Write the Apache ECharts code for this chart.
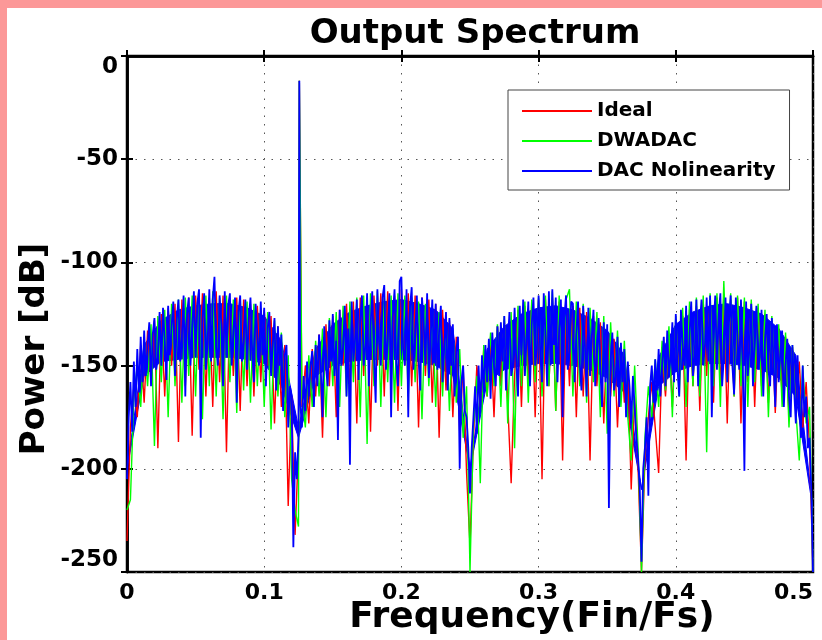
<!DOCTYPE html>
<html>
<head>
<meta charset="utf-8">
<script src="https://cdn.jsdelivr.net/npm/echarts@6/dist/echarts.min.js"></script>
<style>
	html, body { margin: 0; padding: 0; background: #fff; }
	#chart { width: 822px; height: 640px; }
</style>
</head>
<body>
<div id="chart"></div>
<script type="text/javascript">
// power per FFT bin [dB], bins evenly spaced from 0 to 0.5 (Fin/Fs)
var idealPower = [
	-235,-180,-160,-175,-140,-168,-133,-158,-128,-190,
	-125,-165,-122,-150,-120,-187,-118,-160,-117,-184,
	-116,-152,-115,-165,-117,-170,-114,-158,-116,-192,
	-118,-155,-117,-172,-118,-160,-120,-165,-121,-158,
	-123,-150,-126,-178,-131,-170,-140,-218,-165,-232,
	-190,-170,-150,-178,-142,-165,-135,-185,-130,-160,
	-126,-175,-123,-150,-120,-160,-119,-178,-117,-155,
	-117,-182,-116,-150,-115,-165,-114,-158,-116,-172,
	-113,-150,-115,-160,-116,-180,-117,-155,-118,-168,
	-120,-185,-123,-162,-128,-175,-136,-182,-150,-202,
	-237,-185,-150,-170,-142,-165,-136,-175,-131,-160,
	-128,-168,-207,-155,-123,-170,-121,-158,-120,-175,
	-118,-205,-118,-160,-117,-172,-119,-196,-120,-160,
	-121,-175,-122,-165,-124,-196,-126,-160,-129,-178,
	-133,-165,-137,-180,-142,-168,-150,-210,-165,-200,
	-250,-195,-175,-158,-180,-202,-145,-165,-136,-170,
	-130,-158,-126,-196,-123,-160,-121,-172,-119,-155,
	-118,-168,-117,-160,-116,-178,-118,-165,-117,-178,
	-119,-158,-120,-170,-122,-160,-125,-168,-128,-173,
	-132,-165,-136,-175,-141,-170,-148,-180,-158,-190,
	-250
];
var dwadacPower = [
	-220,-215,-165,-150,-170,-137,-160,-130,-189,-126,
	-158,-123,-175,-120,-160,-118,-168,-117,-155,-116,
	-165,-115,-176,-116,-160,-114,-165,-117,-176,-116,
	-158,-118,-173,-117,-162,-119,-168,-120,-160,-122,
	-170,-124,-181,-128,-165,-134,-175,-145,-205,-220,
	-228,-165,-180,-145,-170,-138,-165,-132,-175,-127,
	-160,-124,-170,-121,-165,-119,-158,-117,-175,-116,
	-188,-115,-160,-114,-170,-115,-158,-116,-168,-115,
	-160,-116,-165,-117,-158,-119,-176,-120,-160,-122,
	-170,-124,-165,-128,-172,-133,-168,-142,-185,-160,
	-250,-180,-155,-207,-140,-165,-134,-160,-130,-170,
	-126,-178,-124,-190,-121,-160,-119,-168,-118,-158,
	-117,-165,-116,-160,-114,-172,-116,-158,-118,-113,
	-165,-119,-160,-120,-168,-122,-158,-124,-175,-126,
	-183,-129,-165,-133,-170,-138,-175,-196,-150,-190,
	-250,-185,-160,-175,-147,-170,-138,-162,-131,-175,
	-126,-165,-122,-170,-119,-160,-117,-165,-116,-192,
	-115,-160,-115,-170,-109,-158,-115,-165,-116,-160,
	-117,-170,-118,-158,-120,-165,-123,-175,-126,-162,
	-130,-170,-134,-180,-140,-172,-196,-150,-178,-170,
	-250
];
// DAC nonlinearity, read at twice the bin density
var nonlinPower = [
	-205,-175,-158,-182,-148,-170,-142,-163,-136,-158,
	-133,-155,-140,-129,-160,-135,-127,-152,-146,-124,
	-150,-122,-138,-157,-121,-145,-131,-119,-155,-128,
	-118,-148,-136,-116,-165,-125,-117,-150,-133,-114,
	-146,-120,-113,-185,-127,-115,-152,-139,-113,-148,
	-118,-107,-141,-150,-116,-130,-160,-114,-145,-121,
	-115,-150,-135,-117,-168,-124,-116,-148,-138,-118,
	-152,-127,-117,-143,-158,-120,-135,-150,-119,-145,
	-122,-160,-132,-124,-155,-140,-127,-162,-131,-150,
	-135,-172,-145,-140,-180,-160,-165,-238,-192,-205,
	-185,-168,-180,-155,-172,-148,-165,-150,-143,-170,
	-140,-160,-135,-152,-175,-131,-150,-160,-128,-148,
	-125,-155,-138,-186,-123,-150,-141,-121,-165,-132,
	-198,-119,-148,-137,-118,-157,-128,-116,-150,-140,
	-115,-160,-131,-114,-146,-168,-113,-139,-150,-117,
	-111,-152,-136,-115,-175,-126,-113,-149,-160,-109,
	-107,-142,-150,-113,-175,-122,-112,-152,-137,-116,
	-147,-162,-117,-129,-150,-115,-156,-138,-118,-149,
	-120,-152,-133,-121,-158,-141,-124,-162,-127,-150,
	-130,-165,-143,-136,-200,-158,-150,-172,-175,-190,
	-212,-190,-175,-160,-183,-150,-170,-145,-163,-140,
	-158,-137,-166,-134,-150,-160,-131,-155,-129,-148,
	-126,-162,-140,-124,-155,-150,-122,-148,-165,-121,
	-145,-118,-155,-136,-119,-160,-130,-117,-150,-142,
	-116,-145,-158,-115,-135,-160,-114,-150,-113,-140,
	-117,-158,-132,-118,-175,-127,-116,-152,-143,-119,
	-120,-158,-135,-119,-149,-162,-121,-140,-165,-122,
	-155,-136,-123,-160,-145,-127,-152,-170,-129,-158,
	-130,-219,-148,-134,-162,-155,-136,-170,-139,-158,
	-142,-175,-148,-160,-178,-155,-170,-185,-195,-210,
	-245,-200,-190,-175,-213,-160,-150,-168,-147,-162,
	-142,-165,-150,-136,-160,-133,-155,-145,-129,-158,
	-125,-152,-165,-123,-140,-150,-121,-158,-135,-119,
	-155,-145,-118,-160,-130,-118,-150,-140,-117,-148,
	-116,-175,-133,-116,-152,-125,-115,-160,-146,-117,
	-158,-129,-116,-150,-164,-117,-138,-152,-118,-145,
	-201,-119,-155,-140,-120,-160,-135,-121,-152,-146,
	-123,-165,-138,-125,-152,-160,-127,-148,-170,-130,
	-158,-143,-133,-170,-150,-137,-165,-175,-140,-162,
	-178,-145,-170,-185,-150,-175,-165,-190,-185,-210,
	-250
];
// solid part of the DAC nonlinearity trace (bins too dense to tell apart), every 0.0125
var nonlinCoreTop = [
	-200,-140,-128,-123,-121,-120,-120,-122,-126,-138,
	-180,-142,-130,-124,-121,-119,-118,-120,-123,-132,
	-200,-142,-131,-125,-122,-121,-123,-127,-133,-145,
	-210,-146,-130,-124,-121,-120,-122,-125,-132,-145,
	-220
];
var nonlinCoreBottom = [
	-200,-155,-148,-147,-146,-146,-146,-147,-149,-160,
	-185,-155,-150,-148,-147,-147,-147,-148,-150,-155,
	-200,-158,-152,-150,-149,-149,-150,-152,-156,-163,
	-210,-160,-153,-150,-149,-149,-150,-152,-156,-165,
	-220
];
// input tone
var toneFreq = 0.1256;
var tonePower = -12;

var seriesNames = ['Ideal', 'DWADAC', 'DAC Nolinearity'];
var seriesColors = ['#ff0000', '#00ff00', '#0000ff'];
var seriesWidths = [1.4, 1.4, 1.8];
var xTicks = [0, 0.1, 0.2, 0.3, 0.4, 0.5];
var yTicks = [0, -50, -100, -150, -200, -250];

var FONT = 'DejaVu Sans';

// bins -> [freq, power], tone put in between its two bins
function buildData(power) {
	var step = 0.5 / (power.length - 1);
	var pts = [];
	for (var k = 0; k < power.length; k++) {
		pts.push([k * step, power[k]]);
		if (k * step < toneFreq && (k + 1) * step > toneFreq) {
			pts.push([toneFreq, tonePower]);
		}
	}
	return pts;
}

function lineSeries(i, power) {
	return {
		name: seriesNames[i],
		type: 'line',
		data: buildData(power),
		showSymbol: false,
		symbol: 'none',
		sampling: null,
		lineStyle: { color: seriesColors[i], width: seriesWidths[i], join: 'bevel' },
		itemStyle: { color: seriesColors[i] }
	};
}

// core band rows: [freq, top, bottom]
var coreStep = 0.5 / (nonlinCoreTop.length - 1);
var coreRows = [];
for (var j = 0; j < nonlinCoreTop.length; j++) {
	coreRows.push([j * coreStep, nonlinCoreTop[j], nonlinCoreBottom[j]]);
}

// one polygon through the top edge and back along the bottom edge
function renderCore(params, api) {
	if (params.dataIndex !== 0) return null;
	var pts = [];
	for (var a = 0; a < coreRows.length; a++) {
		pts.push(api.coord([coreRows[a][0], coreRows[a][1]]));
	}
	for (var b = coreRows.length - 1; b >= 0; b--) {
		pts.push(api.coord([coreRows[b][0], coreRows[b][2]]));
	}
	return {
		type: 'polygon',
		shape: { points: pts },
		style: { fill: seriesColors[2], stroke: seriesColors[2], lineWidth: 1 }
	};
}

var series = [
	lineSeries(0, idealPower),
	lineSeries(1, dwadacPower),
	{
		name: 'core', type: 'custom', data: coreRows,
		encode: { x: 0, y: [1, 2] },
		renderItem: renderCore,
		silent: true, clip: true
	},
	lineSeries(2, nonlinPower)
];

var gridDots = { show: true, lineStyle: { color: '#555', width: 1, type: [1.5, 7] } };

var myChart = echarts.init(document.getElementById('chart'));
var options = {
	backgroundColor: '#fff',
	animation: false,
	grid: {
		left: 127, top: 56, right: 9, bottom: 68,
		show: true, borderColor: '#000', borderWidth: 2.5,
		backgroundColor: 'transparent'
	},
	legend: {
		orient: 'vertical',
		left: 508, top: 90,
		padding: [10, 14, 8, 14],
		itemWidth: 70, itemHeight: 2,
		itemGap: 8,
		icon: 'rect',
		backgroundColor: '#fff',
		borderColor: '#444', borderWidth: 1,
		data: seriesNames,
		textStyle: { fontFamily: FONT, fontWeight: 'bold', fontSize: 20, color: '#000', lineHeight: 22 }
	},
	xAxis: [{
		type: 'value', min: xTicks[0], max: xTicks[xTicks.length - 1], interval: 0.1,
		axisLine: { show: true, lineStyle: { color: '#000', width: 2.5 } },
		axisTick: { show: true, inside: true, length: 6, lineStyle: { color: '#000', width: 2 } },
		axisLabel: {
			margin: 10, fontFamily: FONT, fontWeight: 'bold', fontSize: 22, color: '#000',
			alignMaxLabel: 'right'
		},
		splitLine: gridDots
	}, {
		type: 'value', position: 'top', min: xTicks[0], max: xTicks[xTicks.length - 1], interval: 0.1,
		axisLine: { show: true, lineStyle: { color: '#000', width: 2.5 } },
		axisTick: { show: true, inside: true, length: 6, lineStyle: { color: '#000', width: 2 } },
		axisLabel: { show: false },
		splitLine: { show: false }
	}],
	yAxis: [{
		type: 'value', min: yTicks[yTicks.length - 1], max: yTicks[0], interval: 50,
		axisLine: { show: true, lineStyle: { color: '#000', width: 2.5 } },
		axisTick: { show: true, inside: true, length: 6, lineStyle: { color: '#000', width: 2 } },
		axisLabel: {
			margin: 9, fontFamily: FONT, fontWeight: 'bold', fontSize: 23, color: '#000',
			verticalAlignMaxLabel: 'top', verticalAlignMinLabel: 'bottom'
		},
		splitLine: gridDots
	}, {
		type: 'value', position: 'right', min: yTicks[yTicks.length - 1], max: yTicks[0], interval: 50,
		axisLine: { show: true, lineStyle: { color: '#000', width: 2.5 } },
		axisTick: { show: true, inside: true, length: 6, lineStyle: { color: '#000', width: 2 } },
		axisLabel: { show: false },
		splitLine: { show: false }
	}],
	graphic: [
		// pink frame strips
		{ type: 'rect', left: 0, top: 0, shape: { width: 822, height: 8 }, style: { fill: '#fc9898' }, z: 100 },
		{ type: 'rect', left: 0, top: 0, shape: { width: 7, height: 640 }, style: { fill: '#fc9898' }, z: 100 },
		{
			type: 'text', x: 475, y: 34,
			style: {
				text: 'Output Spectrum', fill: '#000', align: 'center', verticalAlign: 'middle',
				font: 'bold 34px "DejaVu Sans"'
			}, z: 100
		},
		{
			type: 'text', x: 532, y: 618,
			style: {
				text: 'Frequency(Fin/Fs)', fill: '#000', align: 'center', verticalAlign: 'middle',
				font: 'bold 36px "DejaVu Sans"'
			}, z: 100
		},
		{
			type: 'text', x: 35, y: 349, rotation: Math.PI / 2,
			style: {
				text: 'Power [dB]', fill: '#000', align: 'center', verticalAlign: 'middle',
				font: 'bold 34px "DejaVu Sans"'
			}, z: 100
		}
	],
	series: series
};
myChart.setOption(options);
</script>
</body>
</html>
